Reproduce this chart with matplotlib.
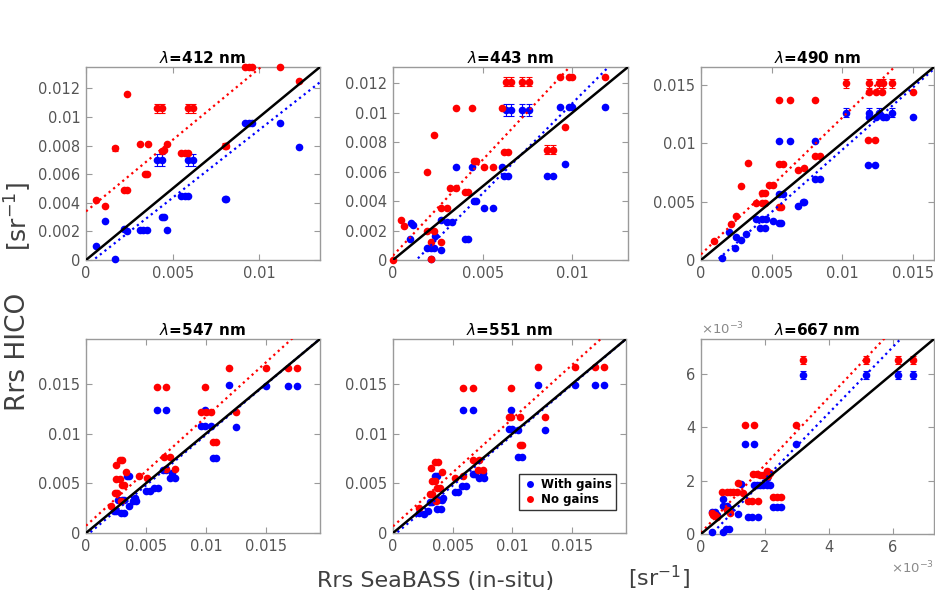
import matplotlib
matplotlib.use('Agg')
import matplotlib.pyplot as plt
import numpy as np
from matplotlib.ticker import FuncFormatter
from matplotlib.lines import Line2D

# ---- 412 nm
b412_x = [0.0006, 0.0011, 0.0017, 0.0022, 0.00235, 0.0031, 0.0033, 0.0035, 0.0041, 0.0044,
          0.0044, 0.0045, 0.0047, 0.0055, 0.0057, 0.0059, 0.0059, 0.0062, 0.0080, 0.0081,
          0.0092, 0.0094, 0.0096, 0.0112, 0.0123]
b412_y = [0.0010, 0.0027, 0.0001, 0.0022, 0.0020, 0.0021, 0.0021, 0.0021, 0.0070, 0.0070,
          0.0030, 0.0030, 0.0021, 0.0045, 0.0045, 0.0045, 0.0070, 0.0070, 0.0043, 0.0043,
          0.0096, 0.0096, 0.0096, 0.0096, 0.0079]
b412_e = [0, 0, 0, 0, 0, 0, 0, 0, 0.0004, 0.0004, 0, 0, 0, 0, 0, 0, 0.0004, 0.0004, 0, 0,
          0, 0, 0, 0, 0.0001]
r412_x = [0.0006, 0.0011, 0.0017, 0.00235, 0.0022, 0.00235, 0.0031, 0.0036, 0.0034, 0.0035,
          0.0041, 0.0044, 0.0044, 0.0045, 0.0047, 0.0055, 0.0057, 0.0059, 0.0059, 0.0062,
          0.0080, 0.0081, 0.0092, 0.0094, 0.0096, 0.0112, 0.0123]
r412_y = [0.0042, 0.0038, 0.0078, 0.0116, 0.0049, 0.0049, 0.0081, 0.0081, 0.0060, 0.0060,
          0.0106, 0.0106, 0.0076, 0.0077, 0.0081, 0.0075, 0.0075, 0.0075, 0.0106, 0.0106,
          0.0080, 0.0080, 0.0135, 0.0135, 0.0135, 0.0135, 0.0125]
r412_e = [0, 0, 0.0002, 0, 0, 0, 0, 0, 0, 0, 0.0003, 0.0003, 0, 0, 0, 0, 0, 0, 0.0003, 0.0003,
          0.0002, 0.0002, 0, 0, 0, 0, 0]

# ---- 443 nm
b443_x = [0.00096, 0.0010, 0.0011, 0.0019, 0.0021, 0.0023, 0.0021, 0.00235, 0.0027, 0.0027,
          0.0030, 0.0033, 0.0035, 0.0040, 0.0042, 0.0044, 0.0045, 0.0046, 0.0051, 0.0056,
          0.0061, 0.0062, 0.0064, 0.0063, 0.0066, 0.0072, 0.0076, 0.0086, 0.0089, 0.0093,
          0.0096, 0.0098, 0.0100, 0.0118]
b443_y = [0.0014, 0.0025, 0.0024, 0.0008, 0.0008, 0.0008, 0.0001, 0.0016, 0.0007, 0.0027,
          0.0026, 0.0026, 0.0063, 0.0014, 0.0014, 0.0063, 0.0040, 0.0040, 0.0035, 0.0035,
          0.0063, 0.0057, 0.0057, 0.0102, 0.0102, 0.0102, 0.0102, 0.0057, 0.0057, 0.0104,
          0.0065, 0.0104, 0.0104, 0.0104]
b443_e = [0, 0, 0, 0, 0, 0, 0, 0, 0, 0, 0, 0, 0, 0, 0, 0, 0, 0, 0, 0,
          0, 0, 0, 0.0004, 0.0004, 0.0004, 0.0004, 0, 0, 0, 0, 0, 0, 0]
r443_x = [0.0, 0.00046, 0.0006, 0.0019, 0.0019, 0.0023, 0.0023, 0.0021, 0.0021, 0.0027,
          0.0027, 0.0030, 0.0032, 0.0035, 0.0035, 0.0040, 0.0042, 0.0044, 0.0045, 0.0046,
          0.0051, 0.0056, 0.0061, 0.0062, 0.0064, 0.0063, 0.0066, 0.0072, 0.0076, 0.0086,
          0.0089, 0.0093, 0.0096, 0.0098, 0.0100, 0.0118]
r443_y = [0.0, 0.0027, 0.0023, 0.0060, 0.0020, 0.0020, 0.0085, 0.0012, 0.0001, 0.0012,
          0.0035, 0.0035, 0.0049, 0.0049, 0.0103, 0.0046, 0.0046, 0.0103, 0.0067, 0.0067,
          0.0063, 0.0063, 0.0103, 0.0073, 0.0073, 0.0121, 0.0121, 0.0121, 0.0121, 0.0075,
          0.0075, 0.0124, 0.0090, 0.0124, 0.0124, 0.0124]
r443_e = [0, 0, 0, 0, 0, 0, 0, 0, 0, 0, 0, 0, 0, 0, 0, 0, 0, 0, 0, 0,
          0, 0, 0, 0, 0, 0.0003, 0.0003, 0.0003, 0.0003, 0.0003, 0.0003, 0, 0, 0, 0, 0]

# ---- 490 nm
b490_x = [0.0015, 0.0020, 0.0024, 0.0025, 0.0028, 0.0032, 0.0039, 0.0043, 0.0046, 0.0042,
          0.0045, 0.0051, 0.0055, 0.0057, 0.0055, 0.0058, 0.0055, 0.0063, 0.0081, 0.0069,
          0.0072, 0.0073, 0.0081, 0.0084, 0.0103, 0.0119, 0.0126, 0.0135, 0.0119, 0.0124,
          0.0129, 0.0131, 0.0118, 0.0123, 0.0150]
b490_y = [0.0002, 0.0024, 0.0010, 0.0020, 0.0017, 0.0022, 0.0035, 0.0035, 0.0035, 0.0027,
          0.0027, 0.0033, 0.0032, 0.0032, 0.0056, 0.0056, 0.0102, 0.0102, 0.0102, 0.0046,
          0.0050, 0.0050, 0.0069, 0.0069, 0.0126, 0.0126, 0.0126, 0.0126, 0.0122, 0.0122,
          0.0122, 0.0122, 0.0081, 0.0081, 0.0122]
b490_e = [0, 0, 0, 0, 0, 0, 0, 0, 0, 0, 0, 0, 0, 0, 0, 0, 0, 0, 0, 0,
          0, 0, 0, 0, 0.0004, 0.0004, 0.0004, 0.0004, 0, 0, 0, 0, 0, 0, 0]
r490_x = [0.0009, 0.0021, 0.0025, 0.0028, 0.0033, 0.0039, 0.0043, 0.0045, 0.0043, 0.0045,
          0.0048, 0.0051, 0.0055, 0.0057, 0.0055, 0.0058, 0.0055, 0.0063, 0.0081, 0.0069,
          0.0073, 0.0081, 0.0084, 0.0103, 0.0119, 0.0126, 0.0129, 0.0135, 0.0119, 0.0124,
          0.0128, 0.0118, 0.0123, 0.0150]
r490_y = [0.0016, 0.0031, 0.0038, 0.0063, 0.0083, 0.0049, 0.0049, 0.0049, 0.0057, 0.0057,
          0.0064, 0.0064, 0.0045, 0.0045, 0.0082, 0.0082, 0.0137, 0.0137, 0.0137, 0.0077,
          0.0079, 0.0089, 0.0089, 0.0151, 0.0151, 0.0151, 0.0151, 0.0151, 0.0144, 0.0144,
          0.0144, 0.0103, 0.0103, 0.0144]
r490_e = [0, 0, 0, 0, 0, 0, 0, 0, 0, 0, 0, 0, 0, 0, 0, 0, 0, 0, 0, 0,
          0, 0, 0, 0.0004, 0.0004, 0.0004, 0.0004, 0.0004, 0, 0, 0, 0, 0, 0]

# ---- 547 nm
b547_x = [0.0023, 0.0025, 0.0029, 0.0032, 0.0036, 0.0027, 0.0030, 0.0032, 0.0034, 0.0036,
          0.0039, 0.0042, 0.0041, 0.0050, 0.0053, 0.0057, 0.0060, 0.0059, 0.0067, 0.0064,
          0.0067, 0.0070, 0.0074, 0.0072, 0.0096, 0.0099, 0.0099, 0.0106, 0.0108, 0.0104,
          0.0119, 0.0125, 0.0150, 0.0168, 0.0176]
b547_y = [0.0022, 0.0022, 0.0020, 0.0020, 0.0027, 0.0033, 0.0033, 0.0033, 0.0057, 0.0057,
          0.0032, 0.0032, 0.0035, 0.0042, 0.0042, 0.0045, 0.0045, 0.0124, 0.0124, 0.0063,
          0.0063, 0.0055, 0.0055, 0.0060, 0.0108, 0.0108, 0.0124, 0.0075, 0.0075, 0.0108,
          0.0149, 0.0107, 0.0148, 0.0148, 0.0148]
r547_x = [0.0021, 0.0024, 0.0026, 0.0025, 0.0028, 0.0025, 0.0028, 0.0030, 0.0030, 0.0032,
          0.0033, 0.0029, 0.0044, 0.0051, 0.0059, 0.0067, 0.0065, 0.0070, 0.0067, 0.0074,
          0.0099, 0.0096, 0.0100, 0.0104, 0.0106, 0.0108, 0.0119, 0.0125, 0.0150, 0.0168,
          0.0176]
r547_y = [0.0027, 0.0040, 0.0040, 0.0054, 0.0054, 0.0068, 0.0073, 0.0073, 0.0048, 0.0048,
          0.0061, 0.0032, 0.0057, 0.0055, 0.0147, 0.0147, 0.0076, 0.0076, 0.0064, 0.0064,
          0.0147, 0.0122, 0.0122, 0.0122, 0.0091, 0.0091, 0.0166, 0.0122, 0.0166, 0.0166,
          0.0166]

# ---- 551 nm
b551_x = [0.0022, 0.0026, 0.0029, 0.0031, 0.0033, 0.0037, 0.0040, 0.0035, 0.0037, 0.0038,
          0.0041, 0.0042, 0.0052, 0.0054, 0.0058, 0.0061, 0.0059, 0.0067, 0.0067, 0.0069,
          0.0072, 0.0076, 0.0075, 0.0097, 0.0100, 0.0099, 0.0105, 0.0108, 0.0105, 0.0121,
          0.0127, 0.0152, 0.0169, 0.0177]
b551_y = [0.0020, 0.0019, 0.0022, 0.0031, 0.0031, 0.0024, 0.0024, 0.0057, 0.0057, 0.0033,
          0.0033, 0.0035, 0.0041, 0.0041, 0.0047, 0.0047, 0.0124, 0.0124, 0.0059, 0.0059,
          0.0055, 0.0055, 0.0060, 0.0105, 0.0105, 0.0124, 0.0076, 0.0076, 0.0104, 0.0149,
          0.0104, 0.0149, 0.0149, 0.0149]
r551_x = [0.0022, 0.0031, 0.0033, 0.0033, 0.0035, 0.0032, 0.0035, 0.0038, 0.0037, 0.0039,
          0.0041, 0.0036, 0.0052, 0.0059, 0.0059, 0.0067, 0.0067, 0.0072, 0.0071, 0.0075,
          0.0099, 0.0097, 0.0099, 0.0106, 0.0106, 0.0108, 0.0121, 0.0127, 0.0152, 0.0169,
          0.0177]
r551_y = [0.0025, 0.0039, 0.0039, 0.0052, 0.0052, 0.0065, 0.0071, 0.0071, 0.0045, 0.0045,
          0.0061, 0.0032, 0.0055, 0.0057, 0.0146, 0.0146, 0.0073, 0.0073, 0.0063, 0.0063,
          0.0146, 0.0117, 0.0117, 0.0117, 0.0088, 0.0088, 0.0167, 0.0117, 0.0167, 0.0167,
          0.0167]

# ---- 667 nm  (values in units of 1e-3 sr^-1)
b667_x = [0.33, 0.44, 0.51, 0.33, 0.68, 0.78, 0.89, 0.70, 0.70, 0.80,
          0.91, 1.17, 1.25, 1.48, 1.59, 1.38, 1.66, 1.67, 1.75, 1.85,
          1.95, 2.06, 2.16, 1.80, 2.06, 2.27, 2.37, 2.50, 2.97, 3.19,
          5.16, 6.17, 6.64]
b667_y = [0.84, 0.84, 0.72, 0.09, 0.09, 0.18, 0.18, 1.31, 1.03, 1.03,
          0.95, 0.75, 1.89, 0.65, 0.65, 3.38, 3.38, 1.82, 1.82, 1.82,
          1.82, 1.82, 1.82, 0.65, 2.10, 1.00, 1.00, 1.00, 3.38, 5.94,
          5.94, 5.94, 5.94]
b667_e = [0] * 29 + [0.15, 0.15, 0.15, 0.15]
r667_x = [0.33, 0.44, 0.51, 0.38, 0.65, 0.80, 0.91, 1.01, 1.12, 0.80,
          0.91, 1.17, 1.33, 1.48, 1.59, 1.38, 1.66, 1.64, 1.75, 1.85,
          1.95, 1.80, 2.06, 2.11, 2.16, 2.27, 2.37, 2.50, 2.97, 3.19,
          5.16, 6.17, 6.64]
r667_y = [0.78, 0.72, 0.65, 0.70, 1.56, 1.56, 1.56, 1.56, 1.56, 0.90,
          0.80, 1.91, 1.53, 1.22, 1.22, 4.09, 4.09, 2.23, 2.23, 2.21,
          2.21, 1.22, 2.35, 2.16, 2.29, 1.38, 1.38, 1.38, 4.09, 6.53,
          6.53, 6.53, 6.53]
r667_e = [0] * 29 + [0.15, 0.15, 0.15, 0.15]

# linear fits: (slope, intercept)
fit_blue = {412: (0.951, -0.0004), 443: (1.223, -0.00159), 490: (1.064, -0.00122),
            547: (1.017, -0.0003), 551: (1.015, -0.0003), 667: (1.233, -0.41)}
fit_red = {412: (1.0, 0.0034), 443: (1.30, 0.0003), 490: (1.169, 0.00048),
           547: (1.095, 0.00073), 551: (1.083, 0.00067), 667: (1.265, 0.05)}

W, H = 935, 595
tick_col = '#555555'
spine_col = '#9a9a9a'

fig = plt.figure(figsize=(W / 100, H / 100), dpi=100)


def add_panel(box, wl, bx, by, be, rx, ry, re, lim, ticks):
    l, t, r, b = box
    ax = fig.add_axes([l / W, 1 - b / H, (r - l) / W, (b - t) / H])
    for x, y, e, c in [(bx, by, be, 'blue'), (rx, ry, re, 'red')]:
        x = np.array(x); y = np.array(y)
        ax.plot(x, y, 'o', color=c, ms=5.5, mew=0, clip_on=False, zorder=3)
        if e is not None:
            e = np.array(e)
            m = e > 0
            ax.errorbar(x[m], y[m], yerr=e[m], fmt='none', ecolor=c, elinewidth=0.8,
                        capsize=2, capthick=0.8, zorder=3)
    xs = np.array([0, lim[0]])
    sb, ib = fit_blue[wl]
    sr, ir = fit_red[wl]
    ax.plot(xs, sr * xs + ir, ':', color='red', lw=1.6, zorder=4)
    ax.plot(xs, sb * xs + ib, ':', color='blue', lw=1.6, zorder=4)
    ax.plot(xs, xs, '-', color='black', lw=1.8, zorder=5)
    ax.set_xlim(0, lim[0])
    ax.set_ylim(0, lim[1])
    ax.set_xticks(ticks[0])
    ax.set_yticks(ticks[1])
    fmt = FuncFormatter(lambda v, p: '%g' % round(v, 6))
    ax.xaxis.set_major_formatter(fmt)
    ax.yaxis.set_major_formatter(fmt)
    ax.tick_params(direction='in', top=True, right=True, length=4, width=0.8,
                   color=spine_col, labelcolor=tick_col, labelsize=10.5, pad=4)
    for s in ax.spines.values():
        s.set_color(spine_col)
        s.set_linewidth(1.0)
    ax.set_title(r'$\lambda$=%d nm' % wl, fontsize=11, fontweight='bold', pad=3)
    return ax


t_small = [0, 0.005, 0.01]
t_y12 = [0, 0.002, 0.004, 0.006, 0.008, 0.01, 0.012]
t_big = [0, 0.005, 0.01, 0.015]

add_panel((86, 67, 320, 260), 412, b412_x, b412_y, b412_e, r412_x, r412_y, r412_e,
          (0.0135, 0.0135), (t_small, t_y12))
add_panel((393, 67, 628, 260), 443, b443_x, b443_y, b443_e, r443_x, r443_y, r443_e,
          (0.0131, 0.0131), (t_small, t_y12))
add_panel((701, 67, 934, 260), 490, b490_x, b490_y, b490_e, r490_x, r490_y, r490_e,
          (0.0165, 0.0165), (t_big, t_big))
add_panel((86, 339, 320, 533), 547, b547_x, b547_y, None, r547_x, r547_y, None,
          (0.0195, 0.0195), (t_big, t_big))
ax5 = add_panel((393, 339, 626, 533), 551, b551_x, b551_y, None, r551_x, r551_y, None,
                (0.0195, 0.0195), (t_big, t_big))
ax6 = add_panel((701, 339, 934, 534), 667, b667_x, b667_y, b667_e, r667_x, r667_y, r667_e,
                (7.3, 7.3), ([0, 2, 4, 6], [0, 2, 4, 6]))
ax6.text(0.0, 1.01, r'$\times10^{-3}$', transform=ax6.transAxes, ha='left', va='bottom',
         fontsize=9.5, color='#8a8a8a')
ax6.text(1.0, -0.13, r'$\times10^{-3}$', transform=ax6.transAxes, ha='right', va='top',
         fontsize=9.5, color='#8a8a8a')

handles = [Line2D([], [], marker='o', ls='none', color='blue', ms=5, mew=0),
           Line2D([], [], marker='o', ls='none', color='red', ms=5, mew=0)]
leg = fig.legend(handles, ['With gains', 'No gains'], loc='lower left',
                 bbox_to_anchor=(519 / W, 1 - 510 / H), frameon=True, fancybox=False,
                 edgecolor='black', prop={'weight': 'bold', 'size': 8.5},
                 handlelength=1.2, handletextpad=0.3, labelspacing=0.15,
                 borderpad=0.35, borderaxespad=0)
leg.get_frame().set_linewidth(1.0)
for txt in leg.get_texts():
    txt.set_color('black')

fig.text(18 / W, 1 - 352 / H, 'Rrs HICO', rotation=90, ha='center', va='center',
         fontsize=19, color='#404040')
fig.text(18 / W, 1 - 216 / H, r'[sr$^{-1}$]', rotation=90, ha='center', va='center',
         fontsize=18, color='#404040')
fig.text(436 / W, 1 - 581 / H, 'Rrs SeaBASS (in-situ)', ha='center', va='center',
         fontsize=16, color='#404040')
fig.text(659 / W, 1 - 578 / H, r'[sr$^{-1}$]', ha='center', va='center',
         fontsize=16, color='#404040')

fig.savefig('out.png', dpi=100)
